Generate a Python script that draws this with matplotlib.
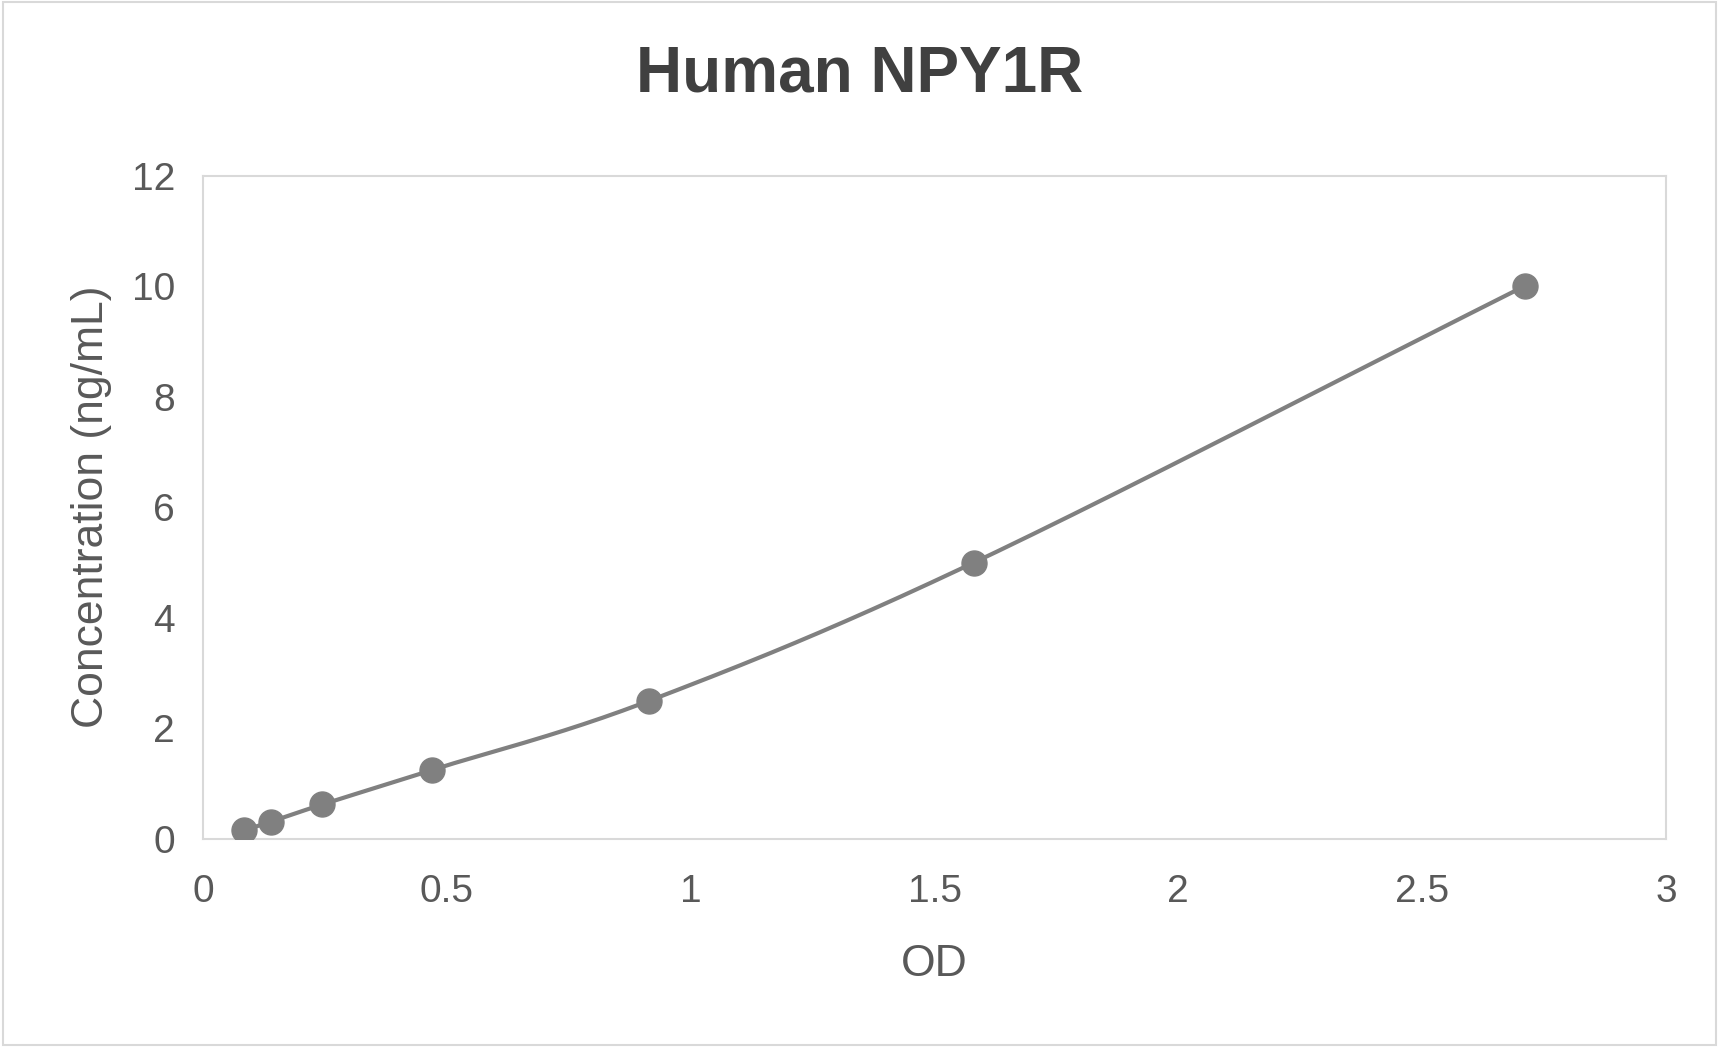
import numpy as np
import matplotlib
matplotlib.use("Agg")
import matplotlib.pyplot as plt
from matplotlib.patches import Rectangle

od = [0.085, 0.139, 0.245, 0.470, 0.915, 1.581, 2.710]
conc = [0.156, 0.3125, 0.625, 1.25, 2.5, 5.0, 10.0]
xticks = [0, 0.5, 1, 1.5, 2, 2.5, 3]
yticks = [0, 2, 4, 6, 8, 10, 12]
title = "Human NPY1R"
xlabel = "OD"
ylabel = "Concentration (ng/mL)"

plt.rcParams['font.family'] = ['Liberation Sans', 'DejaVu Sans']
TXT = '#595959'
GRID = '#d9d9d9'
MARK = '#808080'


def catmull_rom(x, y, n=40):
    # Excel-like smoothed line through the data points
    P = np.column_stack([x, y]).astype(float)
    P = np.vstack([2 * P[0] - P[1], P, 2 * P[-1] - P[-2]])
    out = []
    t = np.linspace(0, 1, n)[:, None]
    for i in range(1, len(P) - 2):
        p0, p1, p2, p3 = P[i - 1], P[i], P[i + 1], P[i + 2]
        seg = 0.5 * ((2 * p1) + (-p0 + p2) * t + (2 * p0 - 5 * p1 + 4 * p2 - p3) * t ** 2
                     + (-p0 + 3 * p1 - 3 * p2 + p3) * t ** 3)
        out.append(seg)
    S = np.vstack(out)
    return S[:, 0], S[:, 1]


fig = plt.figure(figsize=(17.19, 10.47), dpi=100)
fig.patches.append(Rectangle((0.0015, 0.002), 0.997, 0.996, transform=fig.transFigure,
                             fill=False, edgecolor=GRID, linewidth=1.5))
ax = fig.add_axes([203 / 1719, 1 - 839 / 1047, (1666 - 203) / 1719, (839 - 175.5) / 1047])

sx, sy = catmull_rom(od, conc)
ax.plot(sx, sy, color=MARK, linewidth=3.0, solid_capstyle='round', zorder=2)
ax.plot(od, conc, linestyle='none', marker='o', markersize=18, color=MARK, zorder=3)

ax.set_xlim(0, 3)
ax.set_ylim(0, 12)
ax.set_xticks(xticks)
ax.set_xticklabels([f"{v:g}" for v in xticks])
ax.set_yticks(yticks)
ax.set_yticklabels([f"{v:g}" for v in yticks])
ax.tick_params(length=0, labelsize=28, labelcolor=TXT)
ax.tick_params(axis='x', pad=25)
ax.tick_params(axis='y', pad=20)
for s in ax.spines.values():
    s.set_color(GRID)
    s.set_linewidth(1.5)

ax.set_xlabel(xlabel, fontsize=32, color=TXT, labelpad=25)
ax.set_ylabel(ylabel, fontsize=32, color=TXT, labelpad=14)
fig.text(0.5, 1 - 75 / 1047, title, fontsize=46, fontweight='bold', color='#404040',
         ha='center', va='center')

fig.savefig("out.png", dpi=100)
